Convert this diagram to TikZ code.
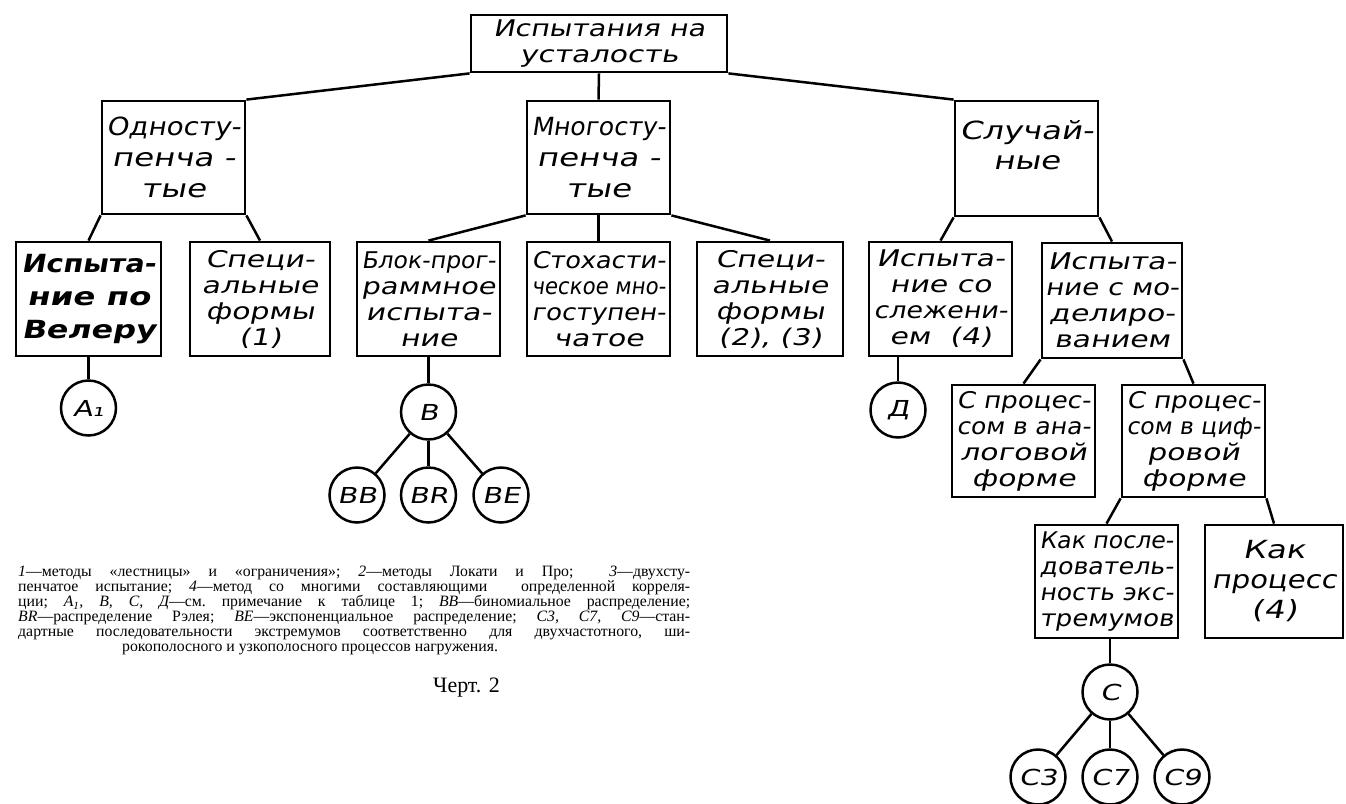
\documentclass[tikz,border=0pt]{standalone}
\usepackage{fontspec}
\usepackage{graphicx}
\newfontfamily\gost[FakeStretch=1.3,FakeSlant=0.2]{DejaVu Sans}
\newfontfamily\capfont{Liberation Serif}
\newsavebox\fitbox
\newcommand\fl[2][134pt]{\sbox\fitbox{#2}\ifdim\wd\fitbox>#1\relax\resizebox{#1}{\ht\fitbox}{\usebox\fitbox}\else\usebox\fitbox\fi}
\newcommand\capline[1]{\makebox[672pt][s]{#1}}
\begin{document}
\begin{tikzpicture}[x=1pt,y=-1pt,
  box/.style={draw, line width=2.8pt, rectangle, inner sep=0pt, align=center,
    font=\gost\fontsize{23}{26}\selectfont},
  lvl/.style={minimum width=143pt, minimum height=113pt},
  circ/.style={draw, circle, line width=2.5pt, minimum size=55pt, inner sep=0pt,
    font=\gost\fontsize{22}{22}\selectfont},
  conn/.style={line width=2.5pt},
  captext/.style={anchor=north west, inner sep=0pt, align=left,
    font=\capfont\fontsize{15.8}{15}\selectfont\frenchspacing}]
\useasboundingbox[fill=white] (0,0) rectangle (1346,803);

% level 1
\node[box, minimum width=256pt, minimum height=57pt] (top) at (599,43.5) {\fl[212pt]{Испытания на}\\\fl[212pt]{усталость}};

% level 2
\node[box, lvl, font=\gost\fontsize{25}{31}\selectfont] (odn) at (173.5,157.5) {\fl{Односту-}\\\fl{пенча -}\\\fl{тые}};
\node[box, lvl, font=\gost\fontsize{25}{31}\selectfont] (mnogo) at (598.5,157.5) {\fl{Многосту-}\\\fl{пенча -}\\\fl{тые}};
\node[box, lvl, minimum height=115pt, font=\gost\fontsize{25}{30}\selectfont] (sluch) at (1026.5,158.5) {\fl{Случай-}\\\fl{ные}\\[-2pt]};

% level 3
\node[box, lvl, minimum width=145pt, minimum height=114pt, font=\gost\bfseries\fontsize{25}{33}\selectfont] (vel) at (88.5,299) {\fl{Испыта-}\\\fl{ние по}\\\fl{Велеру}};
\node[box, lvl, minimum width=140pt, minimum height=114pt] (spec1) at (260,299) {\fl{Специ-}\\\fl{альные}\\\fl{формы}\\\fl{(1)}};
\node[box, lvl, minimum height=114pt] (blok) at (428.5,299) {\fl{Блок-прог-}\\\fl{раммное}\\\fl{испыта-}\\\fl{ние}};
\node[box, lvl, minimum height=114pt] (stoh) at (598.5,299) {\fl{Стохасти-}\\\fl{ческое мно-}\\\fl{гоступен-}\\\fl{чатое}};
\node[box, lvl, minimum width=146pt, minimum height=114pt] (spec23) at (770,299) {\fl{Специ-}\\\fl{альные}\\\fl{формы}\\\fl{(2), (3)}};
\node[box, lvl, minimum height=114pt] (slezh) at (940.5,299) {\fl{Испыта-}\\\fl{ние со}\\\fl{слежени-}\\\fl{ем~~(4)}};
\node[box, lvl, minimum width=140pt, minimum height=115pt] (model) at (1112,300.5) {\fl{Испыта-}\\\fl{ние с мо-}\\\fl{делиро-}\\\fl{ванием}};

% level 4
\node[box, lvl, minimum height=112pt] (analog) at (1023.5,441) {\fl{С процес-}\\\fl{сом в ана-}\\\fl{логовой}\\\fl{форме}};
\node[box, lvl, minimum height=112pt] (digital) at (1193.5,441) {\fl{С процес-}\\\fl{сом в циф-}\\\fl{ровой}\\\fl{форме}};

% level 5
\node[box, lvl] (kakpos) at (1106.5,581.5) {\fl{Как после-}\\\fl{дователь-}\\\fl{ность экс-}\\\fl{тремумов}};
\node[box, lvl, minimum width=138pt, font=\gost\fontsize{25}{30}\selectfont] (kakproc) at (1274,581.5) {\fl[125pt]{Как}\\\fl[125pt]{процесс}\\\fl[125pt]{(4)}};

% circles
\node[circ] (A1) at (88.5,408) {A₁};
\node[circ] (B) at (428.5,412) {B};
\node[circ] (BB) at (357,495) {\fl[44pt]{BB}};
\node[circ] (BR) at (428.5,495) {\fl[44pt]{BR}};
\node[circ] (BE) at (501,495) {\fl[44pt]{BE}};
\node[circ] (D) at (898,410) {Д};
\node[circ] (C) at (1110,692) {C};
\node[circ] (C3) at (1038,777) {\fl[44pt]{C3}};
\node[circ] (C7) at (1110,777) {\fl[44pt]{C7}};
\node[circ] (C9) at (1182,777) {\fl[44pt]{C9}};

% connectors
\draw[conn] (top.south west) -- (odn.north east);
\draw[conn] (top.south) -- (mnogo.north);
\draw[conn] (top.south east) -- (sluch.north west);
\draw[conn] (odn.south west) -- (vel.north);
\draw[conn] (odn.south east) -- (spec1.north);
\draw[conn] (mnogo.south west) -- (blok.north);
\draw[conn] (mnogo.south) -- (stoh.north);
\draw[conn] (mnogo.south east) -- (spec23.north);
\draw[conn] (sluch.south west) -- (slezh.north);
\draw[conn] (sluch.south east) -- (model.north);
\draw[conn] (model.south west) -- (analog.north);
\draw[conn] (model.south east) -- (digital.north);
\draw[conn] (digital.south west) -- (kakpos.north);
\draw[conn] (digital.south east) -- (kakproc.north);
\draw[conn] (vel.south) -- (A1.north);
\draw[conn] (blok.south) -- (B.north);
\draw[conn] (D.north |- slezh.south) -- (D.north);
\draw[conn] (C.north |- kakpos.south) -- (C.north);
\draw[conn] (B) -- (BB);
\draw[conn] (B) -- (BR);
\draw[conn] (B) -- (BE);
\draw[conn] (C) -- (C3);
\draw[conn] (C) -- (C7);
\draw[conn] (C) -- (C9);

% caption
\node[captext] (legend) at (18,566) {%
\capline{{\itshape 1}—методы «лестницы» и «ограничения»; {\itshape 2}—методы Локати и Про;\ \ {\itshape 3}—двухсту-}\\
\capline{пенчатое испытание; {\itshape 4}—метод со многими составляющими\ \ определенной корреля-}\\
\capline{ции; {\itshape A\textsubscript{1}, B, C, Д}—см. примечание к таблице 1; {\itshape BB}—биномиальное распределение;}\\
\capline{{\itshape BR}—распределение Рэлея; {\itshape BE}—экспоненциальное распределение; {\itshape C3, C7, C9}—стан-}\\
\capline{дартные последовательности экстремумов соответственно для двухчастотного, ши-}\\
\hspace*{104pt}рокополосного и узкополосного процессов нагружения.};
\node[anchor=west, inner sep=0pt, font=\capfont\fontsize{22}{22}\selectfont] (chert) at (433,688) {Черт. 2};
\end{tikzpicture}
\end{document}
